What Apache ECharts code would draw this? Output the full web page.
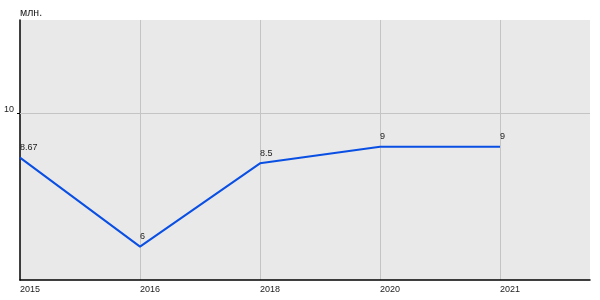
<!DOCTYPE html>
<html>
<head>
<meta charset="utf-8">
<script src="https://cdn.jsdelivr.net/npm/echarts@6/dist/echarts.min.js"></script>
<style>html,body{margin:0;padding:0;background:#fff}#c{width:600px;height:300px}</style>
</head>
<body>
<div id="c"></div>
<script>
const categories = ['2015', '2016', '2018', '2020', '2021'];
const values = [8.67, 6, 8.5, 9, 9];
const yTickValues = [10];
const yUnit = 'млн.';

const chart = echarts.init(document.getElementById('c'), null, {renderer: 'canvas'});
const font = 'Liberation Sans, Arial, sans-serif';
chart.setOption({
  animation: false,
  backgroundColor: '#ffffff',
  grid: {left: 20, right: 10, top: 20, bottom: 20, show: true, backgroundColor: '#e9e9e9', borderWidth: 0},
  xAxis: {
    type: 'value',
    min: 0, max: 4.75, interval: 1,
    axisLine: {show: true, onZero: false, lineStyle: {color: '#000', width: 1.5}},
    axisTick: {show: false},
    splitLine: {show: true, showMinLine: false, showMaxLine: false, lineStyle: {color: '#c4c4c4', width: 1}},
    axisLabel: {
      show: true, showMaxLabel: false, align: 'left', margin: 5,
      fontFamily: font, fontSize: 9, color: '#222',
      formatter: v => (Number.isInteger(v) && categories[v] !== undefined) ? categories[v] : ''
    }
  },
  yAxis: {
    type: 'value',
    min: 5, max: 12.8,
    name: yUnit,
    nameLocation: 'end',
    nameGap: 1,
    nameTextStyle: {align: 'left', verticalAlign: 'bottom', fontFamily: font, fontSize: 10.5, color: '#222'},
    axisLine: {show: true, lineStyle: {color: '#000', width: 1.5}},
    axisTick: {show: true, customValues: yTickValues, length: 3, lineStyle: {color: '#000'}},
    axisLabel: {show: true, customValues: yTickValues, margin: 6, fontFamily: font, fontSize: 9, color: '#222', verticalAlign: 'bottom', lineHeight: 7},
    splitLine: {show: false}
  },
  series: [{
    type: 'line',
    data: values.map((v, i) => [i, v]),
    showSymbol: true,
    symbol: 'circle',
    symbolSize: 1,
    itemStyle: {color: 'rgba(0,0,0,0)'},
    lineStyle: {color: '#0a4fe3', width: 2},
    label: {
      show: true, position: 'top', align: 'left', distance: 5,
      fontFamily: font, fontSize: 9, color: '#222',
      formatter: p => String(p.value[1])
    },
    markLine: {
      silent: true, symbol: 'none', label: {show: false},
      lineStyle: {color: '#c4c4c4', width: 1, type: 'solid'},
      data: yTickValues.map(v => ({yAxis: v}))
    }
  }]
});
</script>
</body>
</html>
